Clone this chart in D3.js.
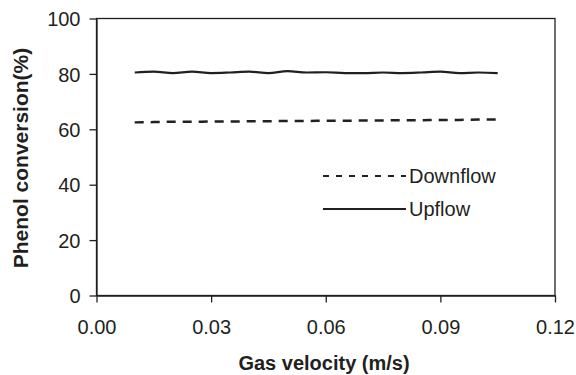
<!DOCTYPE html>
<html><head><meta charset="utf-8">
<script src="https://cdn.jsdelivr.net/npm/d3@7"></script>
<style>body{margin:0;background:#fff}svg{display:block;font-family:"Liberation Sans",Arial,sans-serif}</style>
</head><body><svg id="c" width="576" height="375"></svg>
<script>
const xValues = [0.010,0.015,0.020,0.025,0.030,0.035,0.040,0.045,0.050,0.055,0.060,0.065,0.070,0.075,0.080,0.085,0.090,0.095,0.100,0.105];
const upflow = [80.5,80.8,80.3,80.8,80.3,80.5,80.8,80.3,81.0,80.5,80.6,80.3,80.3,80.5,80.3,80.5,80.8,80.3,80.5,80.3];
const downflow = [62.5,62.6,62.7,62.7,62.8,62.8,62.9,62.9,63.0,63.0,63.1,63.1,63.2,63.2,63.3,63.3,63.4,63.4,63.5,63.5];
const xTicks = [0,0.03,0.06,0.09,0.12];
const yTicks = [0,20,40,60,80,100];
const seriesNames = ["Downflow","Upflow"];

const svg = d3.select("#c");
const L=96.5,R=555,T=18.5,B=295.5;
const ink = "#231f20";
const x = d3.scaleLinear().domain([0,0.12]).range([L,R]);
const y = d3.scaleLinear().domain([0,100]).range([B,T]);

svg.append("rect").attr("x",L).attr("y",T).attr("width",R-L).attr("height",B-T)
  .attr("fill","none").attr("stroke",ink).attr("stroke-width",1.3);

const xa = svg.append("g").attr("transform",`translate(0,${B})`)
  .call(d3.axisBottom(x).tickValues(xTicks).tickFormat(d3.format(".2f")).tickSize(7).tickSizeOuter(0));
const ya = svg.append("g").attr("transform",`translate(${L},0)`)
  .call(d3.axisLeft(y).tickValues(yTicks).tickSize(7).tickSizeOuter(0));
[xa,ya].forEach(a=>{
  a.select(".domain").attr("stroke",ink).attr("stroke-width",1.3);
  a.selectAll(".tick line").attr("stroke",ink).attr("stroke-width",1.3);
  a.selectAll("text").attr("font-size",20).attr("fill",ink).attr("font-family","Liberation Sans, Arial, sans-serif");
});
xa.selectAll("text").attr("y",38).attr("dy",0);
ya.selectAll("text").attr("x",-16).attr("dy","0.36em");

const line = d3.line().x((d,i)=>x(xValues[i])).y(d=>y(d)).curve(d3.curveMonotoneX);
svg.append("path").datum(downflow).attr("d",line).attr("fill","none")
  .attr("stroke",ink).attr("stroke-width",2.5).attr("stroke-dasharray","9,7");
svg.append("path").datum(upflow).attr("d",line).attr("fill","none")
  .attr("stroke",ink).attr("stroke-width",2.2);

// legend
const lg = svg.append("g");
const ly = [176,209];
seriesNames.forEach((n,i)=>{
  lg.append("line").attr("x1",323).attr("x2",406).attr("y1",ly[i]).attr("y2",ly[i])
    .attr("stroke",ink).attr("stroke-width",2.2)
    .attr("stroke-dasharray", i===0 ? "6,7" : null);
  lg.append("text").attr("x",409).attr("y",ly[i]+7).attr("font-size",20).attr("fill",ink).text(n);
});

svg.append("text").attr("x",324).attr("y",370).attr("text-anchor","middle")
  .attr("font-size",20).attr("font-weight","bold").attr("fill",ink).text("Gas velocity (m/s)");
svg.append("text").attr("transform",`translate(28,158) rotate(-90)`).attr("text-anchor","middle")
  .attr("font-size",21).attr("font-weight","bold").attr("fill",ink).text("Phenol conversion(%)");
</script></body></html>
